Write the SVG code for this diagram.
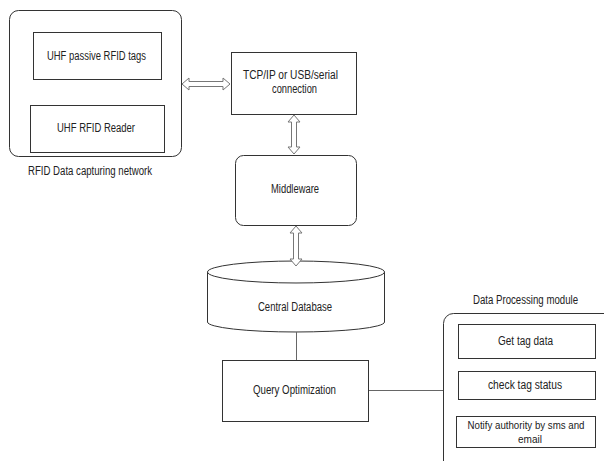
<svg xmlns="http://www.w3.org/2000/svg" width="604" height="461" viewBox="0 0 604 461">
<style>
.b{fill:#fff;stroke:#333;stroke-width:1}
.t{font-family:"Liberation Sans",Arial,sans-serif;font-size:12px;fill:#222;text-anchor:middle}
.s{font-size:11px}
.a{fill:#fff;stroke:#777;stroke-width:1}
.l{stroke:#666;stroke-width:1;fill:none}
</style>
<rect width="604" height="461" fill="#fff"/>
<g id="rfid-network">
<rect class="b" x="9.5" y="10.5" width="172" height="146" rx="9"/>
<text class="t" x="90" y="175" textLength="124" lengthAdjust="spacingAndGlyphs">RFID Data capturing network</text>
</g>
<g id="uhf-tags">
<rect class="b" x="33.5" y="32.5" width="128" height="47"/>
<text class="t" x="96.5" y="60" textLength="99" lengthAdjust="spacingAndGlyphs">UHF passive RFID tags</text>
</g>
<g id="uhf-reader">
<rect class="b" x="30.5" y="105.5" width="134" height="47"/>
<text class="t" x="96" y="132" textLength="78" lengthAdjust="spacingAndGlyphs">UHF RFID Reader</text>
</g>
<g id="tcp">
<rect class="b" x="231.5" y="52.5" width="125" height="62"/>
<text class="t" x="290.5" y="79" textLength="95" lengthAdjust="spacingAndGlyphs">TCP/IP or USB/serial</text>
<text class="t" x="294.5" y="93" textLength="45" lengthAdjust="spacingAndGlyphs">connection</text>
</g>
<g id="middleware">
<rect class="b" x="235.5" y="155.5" width="121" height="70" rx="8"/>
<text class="t" x="295" y="193" textLength="48" lengthAdjust="spacingAndGlyphs">Middleware</text>
</g>
<g id="central-db">
<path class="b" d="M207.5,272 A88.5,11 0 0 1 384.5,272 L384.5,322 A88.5,10 0 0 1 207.5,322 Z"/>
<path class="b" fill="none" d="M207.5,272 A88.5,11 0 0 0 384.5,272"/>
<text class="t" x="295" y="311" textLength="74" lengthAdjust="spacingAndGlyphs">Central Database</text>
</g>
<g id="query">
<rect class="b" x="222.5" y="360.5" width="146" height="61"/>
<text class="t" x="294.5" y="394" textLength="83" lengthAdjust="spacingAndGlyphs">Query Optimization</text>
</g>
<g id="data-processing">
<rect class="b" x="443.5" y="313.5" width="190" height="180" rx="10"/>
<text class="t" x="525.5" y="304" textLength="105" lengthAdjust="spacingAndGlyphs">Data Processing module</text>
</g>
<g id="get-tag">
<rect class="b" x="458.5" y="324.5" width="137" height="34"/>
<text class="t" x="525.5" y="345" textLength="55" lengthAdjust="spacingAndGlyphs">Get tag data</text>
</g>
<g id="check-tag">
<rect class="b" x="458.5" y="371.5" width="137" height="28"/>
<text class="t" x="525" y="389" textLength="74" lengthAdjust="spacingAndGlyphs">check tag status</text>
</g>
<g id="notify">
<rect class="b" x="456.5" y="416.5" width="139" height="31"/>
<text class="t s" x="526" y="429" textLength="117" lengthAdjust="spacingAndGlyphs">Notify authority by sms and</text>
<text class="t s" x="530" y="443" textLength="24" lengthAdjust="spacingAndGlyphs">email</text>
</g>
<g id="connectors">
<path class="a" d="M182,84 L189,78 L189,81.5 L223,81.5 L223,78 L230,84 L223,90 L223,86.5 L189,86.5 L189,90 Z"/>
<path class="a" d="M294,115 L300,122 L296.5,122 L296.5,147 L300,147 L294,154 L288,147 L291.5,147 L291.5,122 L288,122 Z"/>
<path class="a" d="M296,226 L302,233 L298.5,233 L298.5,259 L302,259 L296,266 L290,259 L293.5,259 L293.5,233 L290,233 Z"/>
<line class="l" x1="296.5" y1="332" x2="296.5" y2="360"/>
<line class="l" x1="369" y1="390.5" x2="443" y2="390.5"/>
</g>
</svg>
